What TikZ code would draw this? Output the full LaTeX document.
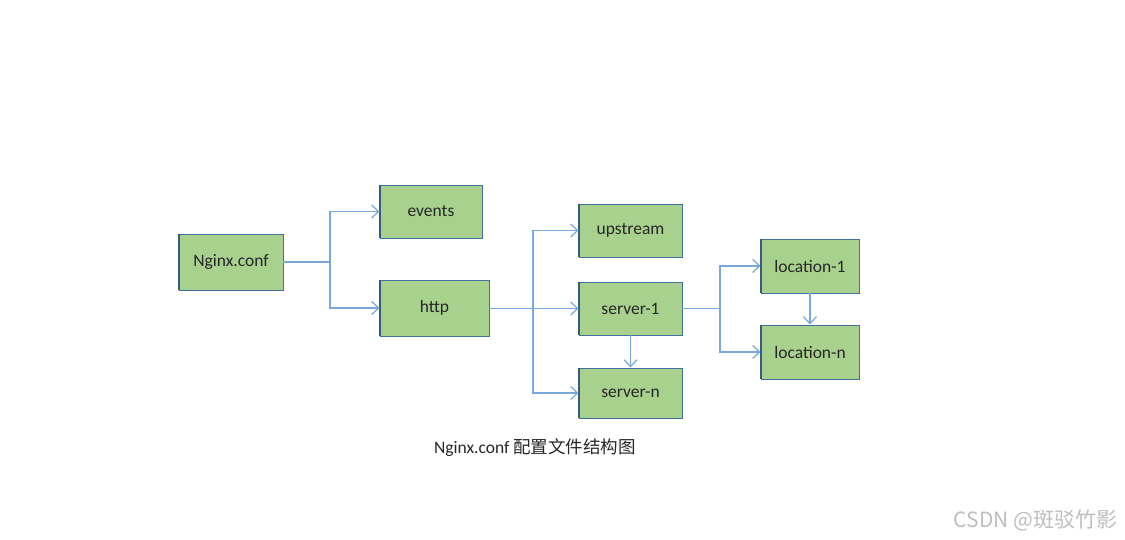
\documentclass[tikz,border=0pt]{standalone}
\usepackage{fontspec}
\setmainfont{Carlito}
\newfontfamily\cjk{Noto Sans CJK SC}
\usetikzlibrary{arrows.meta}
\definecolor{boxfill}{RGB}{169,209,142}
\definecolor{boxline}{RGB}{65,113,156}
\definecolor{arrcol}{RGB}{120,168,218}
\definecolor{wmark}{RGB}{190,190,190}
\tikzset{
  cbox/.style={draw=boxline, fill=boxfill, line width=0.9pt, inner sep=0pt,
    font=\fontsize{17.5}{20}\selectfont, text=black!85},
  conn/.style={draw=arrcol, line width=1.2pt},
  arr/.style={conn, -{Straight Barb[length=7pt,width=13pt,line width=1.2pt]}},
}
\begin{document}
\begin{tikzpicture}[x=1pt,y=1pt]
\useasboundingbox (0,0) rectangle (1125,-540);
\node[cbox, minimum width=104pt, minimum height=56pt] (nginx) at (231,-262) {Nginx.conf};
\node[cbox, minimum width=102pt, minimum height=53pt] (events) at (431,-211.5) {events};
\node[cbox, minimum width=109pt, minimum height=56pt] (http) at (434.5,-308) {http};
\node[cbox, minimum width=103pt, minimum height=53pt] (upstream) at (630.5,-230.5) {upstream};
\node[cbox, minimum width=103pt, minimum height=53pt] (server1) at (630.5,-308.5) {server-1};
\node[cbox, minimum width=103pt, minimum height=50pt] (servern) at (630.5,-393) {server-n};
\node[cbox, minimum width=98pt, minimum height=54pt] (loc1) at (810,-266) {location-1};
\node[cbox, minimum width=98pt, minimum height=54pt] (locn) at (810,-352) {location-n};
\foreach \n in {nginx,events,http,upstream,server1,servern,loc1,locn}{
  \draw[boxline!80!black, line width=2pt] (\n.north west) -- (\n.south west);
}
\coordinate (s1) at (330,-262);
\coordinate (s2) at (533,-308.5);
\coordinate (s3) at (720,-308.5);
\draw[conn] (nginx.east) -- (s1);
\draw[arr] (s1) |- (events.west);
\draw[arr] (s1) |- (http.west);
\draw[conn] (http.east |- s2) -- (s2);
\draw[arr] (s2) |- (upstream.west);
\draw[arr] (s2) -- (server1.west);
\draw[arr] (s2) |- (servern.west);
\draw[arr] (server1.south) -- (servern.north);
\draw[conn] (server1.east) -- (s3);
\draw[arr] (s3) |- (loc1.west);
\draw[arr] (s3) |- (locn.west);
\draw[arr] (loc1.south) -- (locn.north);
\node[font=\fontsize{17.5}{20}\selectfont, text=black!85] (caption) at (535,-448) {Nginx.conf {\cjk 配置文件结构图}};
\node[font=\cjk\fontsize{21}{24}\selectfont, text=wmark, anchor=east] (wm) at (1121,-520) {CSDN @斑驳竹影};
\end{tikzpicture}
\end{document}
